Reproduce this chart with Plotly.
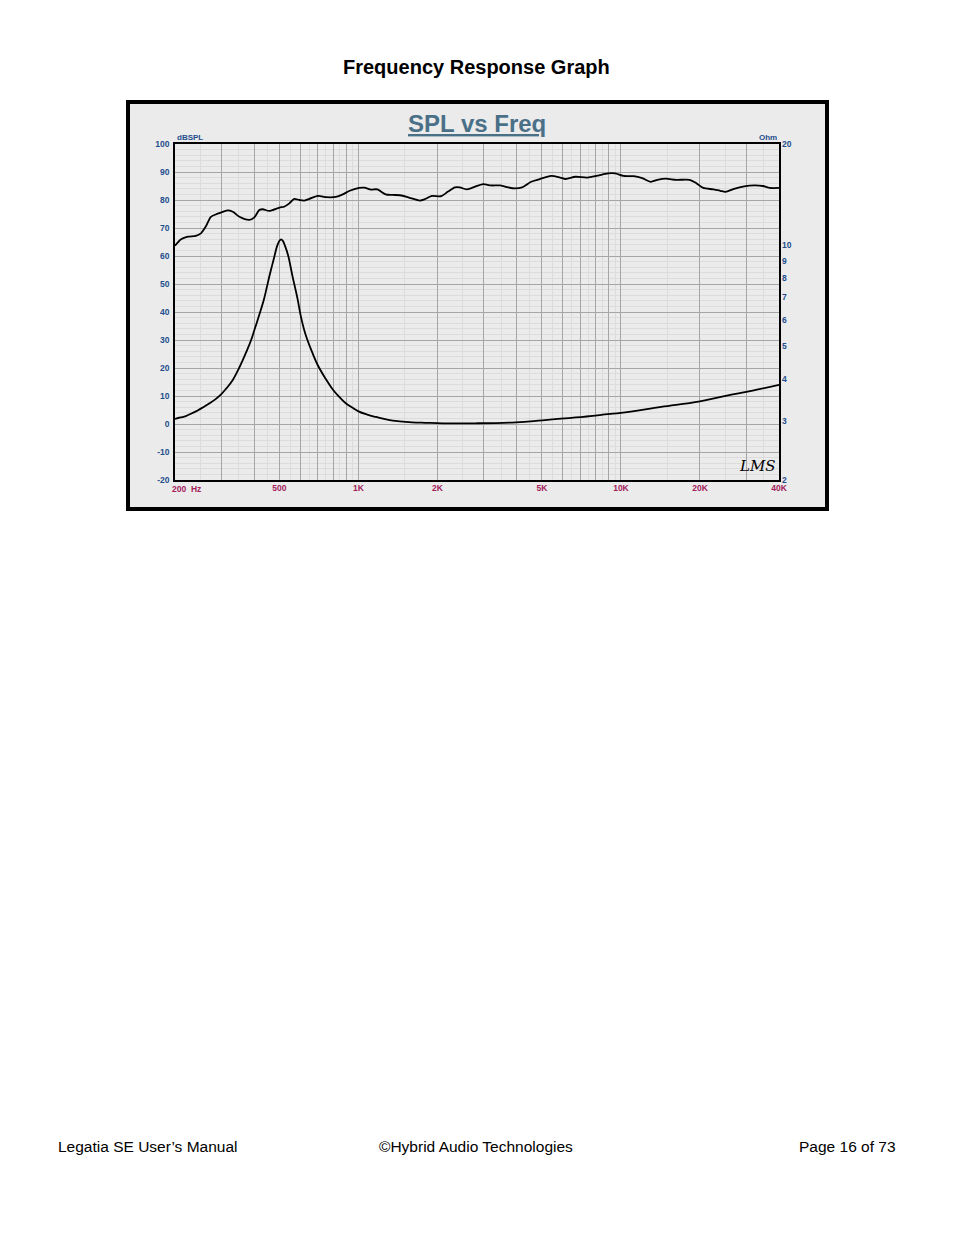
import plotly.graph_objects as go
import numpy as np

# ---------------- data ----------------
spl_freq = [200, 211, 224, 240, 251, 262, 274, 287, 299, 317, 332, 352, 384, 401, 419, 432, 457,
            500, 521, 545, 569, 595, 622, 650, 700, 755, 820, 871, 921, 1006, 1052, 1117, 1180,
            1269, 1349, 1442, 1565, 1713, 1790, 1892, 2067, 2194, 2332, 2432, 2576, 2737, 2985,
            3194, 3466, 3868, 4201, 4548, 4876, 5425, 5864, 6152, 6714, 7440, 8148, 8920, 9500,
            10220, 11180, 12050, 12980, 13770, 14830, 16220, 18260, 19380, 20580, 22520, 23900,
            25010, 26950, 29480, 32250, 34710, 36870, 40000]
spl_db = [63.7, 66.0, 66.9, 67.2, 68.1, 70.5, 74.0, 74.9, 75.5, 76.3, 75.8, 74.0, 72.9, 73.8, 76.4,
          76.7, 76.1, 77.3, 77.6, 78.8, 80.4, 80.0, 79.8, 80.4, 81.5, 81.0, 81.1, 82.0, 83.2, 84.3,
          84.4, 83.7, 83.8, 82.0, 81.8, 81.7, 80.8, 79.8, 80.3, 81.4, 81.4, 83.0, 84.5, 84.5, 83.8,
          84.5, 85.7, 85.2, 85.2, 84.2, 84.5, 86.5, 87.4, 88.6, 88.0, 87.5, 88.3, 88.0, 88.7, 89.5,
          89.5, 88.6, 88.5, 87.8, 86.5, 87.2, 87.6, 87.2, 87.2, 86.0, 84.3, 83.8, 83.3, 82.9, 84.0,
          84.9, 85.2, 85.0, 84.3, 84.3]

imp_freq = [200, 210, 220, 232, 244, 257, 270, 284, 299, 315, 332, 347, 362, 376, 390, 401, 413,
            425, 436, 447, 457, 468, 478, 490, 500, 507, 515, 525, 540, 550, 561, 574, 586, 603,
            620, 640, 670, 700, 750, 798, 850, 897, 950, 1000, 1080, 1166, 1300, 1435, 1600, 1801,
            2100, 2432, 2801, 3975, 5006, 6737, 8920, 10000, 14230, 20000, 25060, 31760, 40000]
imp_ohm = [3.04, 3.07, 3.10, 3.16, 3.22, 3.30, 3.38, 3.47, 3.59, 3.76, 3.97, 4.23, 4.54, 4.86,
           5.22, 5.58, 5.99, 6.43, 6.88, 7.46, 8.04, 8.66, 9.24, 9.95, 10.30, 10.40, 10.30, 9.95,
           9.30, 8.70, 8.06, 7.45, 6.92, 6.15, 5.62, 5.20, 4.75, 4.39, 4.00, 3.72, 3.52, 3.38,
           3.28, 3.20, 3.13, 3.08, 3.02, 2.99, 2.97, 2.96, 2.95, 2.95, 2.95, 2.97, 3.01, 3.07,
           3.14, 3.17, 3.30, 3.43, 3.56, 3.69, 3.84]

x_major = [200, 300, 400, 500, 600, 700, 800, 900, 1000, 2000, 3000, 4000, 5000, 6000, 7000,
           8000, 9000, 10000, 20000, 30000, 40000]
x_labels = {500: "500", 1000: "1K", 2000: "2K", 5000: "5K", 10000: "10K", 20000: "20K", 40000: "40K"}
x_minor = [250, 350, 450, 550, 650, 750, 850, 950, 1500, 2500, 3500, 4500, 5500, 6500, 7500,
           8500, 9500, 15000, 25000, 35000]
y_ticks = [-20, -10, 0, 10, 20, 30, 40, 50, 60, 70, 80, 90, 100]
ohm_ticks = [2, 3, 4, 5, 6, 7, 8, 9, 10, 20]

# ---------------- geometry (page pixels; page body has an 8px margin) ----------------
OFF = 8
W, H = 954 - OFF, 1235 - OFF
PL, PR, PT, PB = 175, 779, 144, 480
pw, ph = PR - PL, PB - PT


def px(x):
    return (x - PL) / pw


def py(y):
    return (PB - y) / ph


blue = "#1f4e8c"
red = "#a3205a"
fnt = "Liberation Sans"

fig = go.Figure()
fig.add_trace(go.Scatter(x=spl_freq, y=spl_db, mode="lines",
                         line=dict(color="black", width=1.8, shape="spline", smoothing=0.8),
                         hoverinfo="skip", showlegend=False))
fig.add_trace(go.Scatter(x=imp_freq, y=imp_ohm, mode="lines", yaxis="y2",
                         line=dict(color="black", width=1.8, shape="spline", smoothing=1.2),
                         hoverinfo="skip", showlegend=False))

fig.update_layout(
    width=W, height=H,
    margin=dict(l=PL - OFF, r=954 - PR, t=PT - OFF, b=1235 - PB, pad=0),
    paper_bgcolor="white", plot_bgcolor="white",
    font=dict(family=fnt),
    xaxis=dict(type="log", range=[np.log10(200), np.log10(40000)],
               tickvals=x_major, ticktext=[x_labels.get(v, "") for v in x_major],
               tickfont=dict(color=red, size=8.5, family=fnt, weight="bold"),
               showgrid=True, gridcolor="#a6a6a6", gridwidth=1,
               minor=dict(tickvals=x_minor, showgrid=True, gridcolor="#dcdcdc", gridwidth=1),
               showline=True, linecolor="black", linewidth=1.5, mirror=True,
               ticks="", zeroline=False, fixedrange=True, ticklabelstandoff=-1),
    yaxis=dict(range=[-20, 100], tickvals=y_ticks, ticktext=[str(v) for v in y_ticks],
               tickfont=dict(color=blue, size=8.5, family=fnt, weight="bold"),
               showgrid=True, gridcolor="#a6a6a6", gridwidth=1,
               minor=dict(dtick=2, showgrid=True, gridcolor="#dcdcdc", gridwidth=1),
               showline=True, linecolor="black", linewidth=1.5, mirror=True,
               ticks="", zeroline=False, ticklabelstandoff=2),
    yaxis2=dict(type="log", overlaying="y", side="right",
                range=[np.log10(2), np.log10(20)], tickvals=ohm_ticks,
                ticktext=[str(v) for v in ohm_ticks],
                tickfont=dict(color=blue, size=8.5, family=fnt, weight="bold"),
                showgrid=False, zeroline=False, showline=False, ticks="", ticklabelstandoff=2),
)

# outer grey frame behind the plot area
fig.add_shape(type="rect", xref="paper", yref="paper", layer="below",
              x0=px(128), x1=px(827), y0=py(509), y1=py(102),
              fillcolor="#ebebeb", line=dict(color="black", width=4))

ann = []
ann.append(dict(text="<b>Frequency Response Graph</b>", x=px(476.5), y=py(67), xref="paper", yref="paper",
                showarrow=False, font=dict(size=20, color="black", family=fnt), xanchor="center", yanchor="middle"))
ann.append(dict(text="<u><b>SPL vs Freq</b></u>", x=px(477), y=py(123), xref="paper", yref="paper",
                showarrow=False, font=dict(size=24, color="#4a7088", family=fnt), xanchor="center", yanchor="middle"))
ann.append(dict(text="<b>dBSPL</b>", x=px(175), y=py(137), xref="paper", yref="paper", showarrow=False,
                font=dict(size=8, color=blue, family=fnt), xanchor="left", yanchor="middle"))
ann.append(dict(text="<b>Ohm</b>", x=px(779), y=py(137), xref="paper", yref="paper", showarrow=False,
                font=dict(size=8, color=blue, family=fnt), xanchor="right", yanchor="middle"))
ann.append(dict(text="<b>200  Hz</b>", x=px(170), y=py(488.5), xref="paper", yref="paper", showarrow=False,
                font=dict(size=8.5, color=red, family=fnt), xanchor="left", yanchor="middle"))
ann.append(dict(text="<i>LMS</i>", x=px(757), y=py(466), xref="paper", yref="paper", showarrow=False,
                font=dict(size=15, color="black", family="DejaVu Serif"), xanchor="center", yanchor="middle"))
ann.append(dict(text="Legatia SE User’s Manual", x=px(56), y=py(1146), xref="paper", yref="paper",
                showarrow=False, font=dict(size=15.5, color="black", family=fnt), xanchor="left", yanchor="middle"))
ann.append(dict(text="©Hybrid Audio Technologies", x=px(476), y=py(1146), xref="paper", yref="paper",
                showarrow=False, font=dict(size=15.5, color="black", family=fnt), xanchor="center", yanchor="middle"))
ann.append(dict(text="Page 16 of 73", x=px(898), y=py(1146), xref="paper", yref="paper",
                showarrow=False, font=dict(size=15.5, color="black", family=fnt), xanchor="right", yanchor="middle"))
fig.update_layout(annotations=ann)

fig.write_html("out.html", config=dict(displayModeBar=False))
